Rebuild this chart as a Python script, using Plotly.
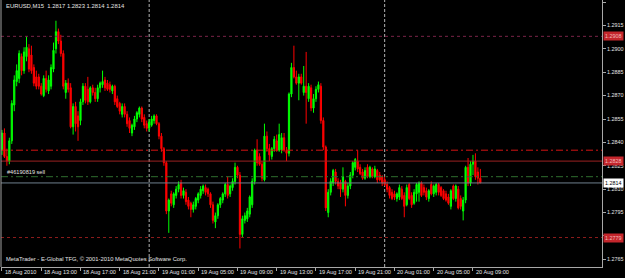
import pandas as pd
import plotly.graph_objects as go

symbol_title = "EURUSD,M15  1.2817 1.2823 1.2814 1.2814"
footer_text = "MetaTrader - E-Global TFG, \u00a9 2001-2010 MetaQuotes Software Corp."
order_label = "#46190819 sell"

opens = [1.2835,1.2846,1.2831,1.2828,1.2841,1.2864,1.2879,1.2881,1.2895,1.2886,
 1.2895,1.2900,1.2896,1.2888,1.2882,1.2882,1.2876,1.2870,1.2881,1.2873,
 1.2876,1.2887,1.2900,1.2911,1.2905,1.2897,1.2872,1.2878,1.2875,1.2850,
 1.2863,1.2857,1.2854,1.2866,1.2876,1.2874,1.2866,1.2875,1.2872,1.2868,
 1.2875,1.2877,1.2880,1.2878,1.2877,1.2873,1.2876,1.2868,1.2865,1.2858,
 1.2863,1.2858,1.2854,1.2846,1.2850,1.2855,1.2858,1.2862,1.2856,1.2852,
 1.2849,1.2851,1.2854,1.2857,1.2852,1.2844,1.2836,1.2827,1.2796,1.2807,
 1.2800,1.2806,1.2810,1.2814,1.2806,1.2808,1.2803,1.2801,1.2797,1.2799,
 1.2803,1.2806,1.2809,1.2811,1.2810,1.2807,1.2800,1.2789,1.2793,1.2800,
 1.2803,1.2807,1.2813,1.2807,1.2811,1.2815,1.2824,1.2819,1.2781,1.2790,
 1.2791,1.2794,1.2800,1.2815,1.2835,1.2831,1.2826,1.2816,1.2844,1.2836,
 1.2831,1.2836,1.2841,1.2835,1.2835,1.2843,1.2835,1.2833,1.2871,1.2888,
 1.2882,1.2878,1.2882,1.2872,1.2876,1.2868,1.2875,1.2862,1.2868,1.2874,
 1.2876,1.2854,1.2837,1.2795,1.2808,1.2814,1.2821,1.2815,1.2814,1.2810,
 1.2815,1.2806,1.2812,1.2819,1.2824,1.2828,1.2824,1.2821,1.2817,1.2824,
 1.2818,1.2823,1.2818,1.2822,1.2819,1.2818,1.2816,1.2813,1.2811,1.2808,
 1.2807,1.2804,1.2805,1.2810,1.2806,1.2800,1.2813,1.2806,1.2801,1.2807,
 1.2808,1.2814,1.2811,1.2809,1.2804,1.2813,1.2807,1.2808,1.2813,1.2811,
 1.2809,1.2807,1.2805,1.2799,1.2812,1.2804,1.2810,1.2804,1.2796,1.2803,
 1.2824,1.2814,1.2826,1.2828,1.2821,1.2817]

highs = [1.2848,1.2849,1.2836,1.2843,1.2867,1.2883,1.2890,1.2899,1.2897,1.2901,
 1.2908,1.2903,1.2902,1.2890,1.2886,1.2884,1.2878,1.2883,1.2886,1.2883,
 1.2890,1.2904,1.2918,1.2913,1.2909,1.2899,1.2880,1.2881,1.2878,1.2865,
 1.2866,1.2860,1.2868,1.2878,1.2878,1.2882,1.2876,1.2877,1.2875,1.2877,
 1.2879,1.2886,1.2882,1.2880,1.2879,1.2877,1.2877,1.2870,1.2866,1.2865,
 1.2865,1.2860,1.2856,1.2852,1.2857,1.2860,1.2863,1.2863,1.2858,1.2854,
 1.2855,1.2857,1.2858,1.2858,1.2853,1.2846,1.2837,1.2828,1.2804,1.2809,
 1.2808,1.2812,1.2815,1.2816,1.2811,1.2810,1.2805,1.2802,1.2802,1.2805,
 1.2808,1.2812,1.2813,1.2813,1.2811,1.2808,1.2802,1.2795,1.2801,1.2805,
 1.2808,1.2814,1.2818,1.2813,1.2817,1.2827,1.2825,1.2821,1.2793,1.2795,
 1.2798,1.2806,1.2817,1.2836,1.2842,1.2833,1.2828,1.2852,1.2847,1.2839,
 1.2837,1.2844,1.2845,1.2852,1.2846,1.2846,1.2837,1.2872,1.2891,1.2902,
 1.2886,1.2884,1.2884,1.2889,1.2898,1.2878,1.2877,1.2871,1.2876,1.2879,
 1.2878,1.2856,1.2838,1.2810,1.2817,1.2823,1.2823,1.2817,1.2816,1.2824,
 1.2816,1.2814,1.2821,1.2828,1.2830,1.2835,1.2826,1.2823,1.2824,1.2826,
 1.2825,1.2824,1.2825,1.2823,1.2821,1.2819,1.2818,1.2815,1.2812,1.2810,
 1.2809,1.2808,1.2813,1.2812,1.2808,1.2813,1.2814,1.2808,1.2810,1.2814,
 1.2815,1.2815,1.2813,1.2811,1.2810,1.2815,1.2813,1.2814,1.2814,1.2812,
 1.2810,1.2809,1.2807,1.2810,1.2813,1.2813,1.2812,1.2806,1.2805,1.2825,
 1.2830,1.2828,1.2832,1.2833,1.2824,1.2823]

lows = [1.2832,1.2830,1.2825,1.2826,1.2839,1.2860,1.2876,1.2878,1.2883,1.2884,
 1.2892,1.2885,1.2884,1.2876,1.2874,1.2874,1.2870,1.2869,1.2872,1.2871,
 1.2874,1.2885,1.2897,1.2903,1.2895,1.2874,1.2868,1.2872,1.2849,1.2845,
 1.2847,1.2841,1.2851,1.2864,1.2865,1.2864,1.2865,1.2870,1.2866,1.2866,
 1.2872,1.2875,1.2873,1.2873,1.2872,1.2871,1.2864,1.2862,1.2858,1.2856,
 1.2856,1.2850,1.2846,1.2844,1.2848,1.2853,1.2856,1.2853,1.2849,1.2847,
 1.2847,1.2850,1.2852,1.2851,1.2842,1.2834,1.2825,1.2794,1.2782,1.2799,
 1.2798,1.2804,1.2808,1.2804,1.2804,1.2800,1.2797,1.2792,1.2795,1.2797,
 1.2801,1.2804,1.2807,1.2806,1.2805,1.2798,1.2788,1.2785,1.2791,1.2798,
 1.2801,1.2805,1.2804,1.2805,1.2809,1.2813,1.2817,1.2772,1.2779,1.2788,
 1.2789,1.2792,1.2798,1.2813,1.2825,1.2825,1.2815,1.2815,1.2834,1.2828,
 1.2829,1.2834,1.2834,1.2834,1.2833,1.2834,1.2828,1.2831,1.2869,1.2881,
 1.2877,1.2867,1.2877,1.2870,1.2852,1.2866,1.2860,1.2859,1.2866,1.2872,
 1.2852,1.2835,1.2796,1.2792,1.2806,1.2812,1.2813,1.2810,1.2805,1.2808,
 1.2799,1.2804,1.2810,1.2817,1.2822,1.2821,1.2819,1.2816,1.2816,1.2817,
 1.2817,1.2817,1.2817,1.2814,1.2815,1.2812,1.2812,1.2808,1.2804,1.2803,
 1.2803,1.2802,1.2803,1.2803,1.2792,1.2799,1.2803,1.2798,1.2800,1.2802,
 1.2802,1.2805,1.2806,1.2803,1.2802,1.2806,1.2805,1.2806,1.2806,1.2805,
 1.2803,1.2802,1.2800,1.2797,1.2803,1.2802,1.2797,1.2797,1.2790,1.2801,
 1.2812,1.2812,1.2819,1.2816,1.2813,1.2814]

closes = [1.2846,1.2831,1.2828,1.2841,1.2865,1.2880,1.2886,1.2897,1.2886,1.2898,
 1.2901,1.2887,1.2886,1.2878,1.2876,1.2876,1.2871,1.2881,1.2874,1.2880,
 1.2888,1.2899,1.2911,1.2905,1.2897,1.2876,1.2878,1.2874,1.2850,1.2863,
 1.2852,1.2850,1.2866,1.2876,1.2867,1.2866,1.2875,1.2872,1.2868,1.2875,
 1.2878,1.2879,1.2875,1.2874,1.2874,1.2876,1.2866,1.2863,1.2860,1.2863,
 1.2858,1.2852,1.2849,1.2851,1.2855,1.2859,1.2862,1.2855,1.2851,1.2849,
 1.2853,1.2855,1.2857,1.2852,1.2844,1.2836,1.2827,1.2796,1.2803,1.2801,
 1.2807,1.2810,1.2813,1.2806,1.2809,1.2802,1.2799,1.2797,1.2800,1.2804,
 1.2807,1.2810,1.2812,1.2808,1.2807,1.2800,1.2790,1.2793,1.2800,1.2804,
 1.2807,1.2813,1.2806,1.2812,1.2815,1.2824,1.2819,1.2781,1.2791,1.2793,
 1.2796,1.2805,1.2815,1.2835,1.2827,1.2826,1.2817,1.2844,1.2836,1.2832,
 1.2836,1.2842,1.2835,1.2845,1.2843,1.2835,1.2833,1.2871,1.2888,1.2882,
 1.2878,1.2882,1.2878,1.2876,1.2872,1.2876,1.2862,1.2868,1.2874,1.2877,
 1.2854,1.2837,1.2798,1.2808,1.2815,1.2822,1.2815,1.2812,1.2810,1.2818,
 1.2806,1.2812,1.2819,1.2827,1.2829,1.2823,1.2820,1.2817,1.2822,1.2818,
 1.2824,1.2818,1.2823,1.2816,1.2816,1.2814,1.2813,1.2810,1.2806,1.2804,
 1.2805,1.2807,1.2811,1.2804,1.2799,1.2811,1.2804,1.2800,1.2808,1.2813,
 1.2814,1.2806,1.2808,1.2805,1.2809,1.2807,1.2812,1.2813,1.2808,1.2806,
 1.2804,1.2803,1.2801,1.2809,1.2804,1.2812,1.2798,1.2799,1.2803,1.2824,
 1.2814,1.2826,1.2828,1.2818,1.2817,1.2814]

bar_times = pd.date_range("2010-08-18 09:00", periods=len(closes), freq="15min")

x_tick_times = ["2010-08-18 09:00", "2010-08-18 13:00", "2010-08-18 17:00", "2010-08-18 21:00",
                "2010-08-19 01:00", "2010-08-19 05:00", "2010-08-19 09:00", "2010-08-19 13:00",
                "2010-08-19 17:00", "2010-08-19 21:00", "2010-08-20 01:00", "2010-08-20 05:00",
                "2010-08-20 09:00"]
x_tick_labels = ["18 Aug 2010", "18 Aug 13:00", "18 Aug 17:00", "18 Aug 21:00",
                 "19 Aug 01:00", "19 Aug 05:00", "19 Aug 09:00", "19 Aug 13:00",
                 "19 Aug 17:00", "19 Aug 21:00", "20 Aug 01:00", "20 Aug 05:00",
                 "20 Aug 09:00"]
# 1.2780 sits fully under the 1.2779 price box in the reference, so its text is blank
y_tick_vals = [1.2765, 1.2780, 1.2795, 1.2810, 1.2825, 1.2840, 1.2855, 1.2870,
               1.2885, 1.2900, 1.2915, 1.2930]
y_tick_labels = ["1.2765", "", "1.2795", "1.2810", "1.2825", "1.2840", "1.2855",
                 "1.2870", "1.2885", "1.2900", "1.2915", "1.2930"]
day_separators = ["2010-08-19 00:00", "2010-08-20 00:00"]

h_levels = [1.2908, 1.2835, 1.2828, 1.2818, 1.2814, 1.2779]
h_colors = ["#7a2448", "#d41414", "#9c2222", "#2f6e2f", "#6f7f8e", "#8e1c1c"]
h_dashes = ["dot", "7px,3px,2px,3px", "solid", "7px,3px,2px,3px", "solid", "dot"]
h_labels = ["1.2908", None, "1.2828", None, "1.2814", "1.2779"]
h_label_bg = ["#c4262c", None, "#c4262c", None, "#ffffff", "#c4262c"]
h_label_fg = ["#f3b8b8", None, "#f3b8b8", None, "#000000", "#f3b8b8"]

x_range = ["2010-08-18 08:54", "2010-08-20 22:09"]
y_range = [1.27601, 1.29313]

txt = "#e4e4e4"
font_family = "Liberation Sans, Arial, sans-serif"

fig = go.Figure()
fig.add_trace(go.Candlestick(
    x=bar_times, open=opens, high=highs, low=lows, close=closes,
    increasing=dict(line=dict(color="#00ff00", width=1), fillcolor="#00ff00"),
    decreasing=dict(line=dict(color="#ff0000", width=1), fillcolor="#ff0000"),
    whiskerwidth=0, hoverinfo="skip", showlegend=False,
))

shapes = []
for t in day_separators:
    shapes.append(dict(type="line", xref="x", yref="paper", x0=t, x1=t, y0=0, y1=1,
                       line=dict(color="#b4b4b4", width=1, dash="3px,2px"), layer="below"))
for lvl, col, dsh in zip(h_levels, h_colors, h_dashes):
    shapes.append(dict(type="line", xref="paper", yref="y", x0=0, x1=1, y0=lvl, y1=lvl,
                       line=dict(color=col, width=1, dash=dsh), layer="above"))
shapes.append(dict(type="line", xref="paper", yref="paper", x0=0, x1=0, y0=0, y1=1,
                   line=dict(color="#a0a0a0", width=1)))

annotations = []
annotations.append(dict(text=symbol_title, xref="paper", yref="paper", x=0, y=1,
                        xanchor="left", yanchor="middle", xshift=3, yshift=-6,
                        showarrow=False, font=dict(size=5.9, color=txt, family=font_family)))
annotations.append(dict(text=footer_text, xref="paper", yref="paper", x=0, y=0,
                        xanchor="left", yanchor="middle", xshift=3, yshift=8,
                        showarrow=False, font=dict(size=5.8, color=txt, family=font_family)))
annotations.append(dict(text=order_label, xref="paper", yref="y", x=0, y=h_levels[3],
                        xanchor="left", yanchor="bottom", xshift=4, yshift=0,
                        showarrow=False, font=dict(size=5.6, color=txt, family=font_family)))
for t, lab in zip(x_tick_times, x_tick_labels):
    annotations.append(dict(text=lab, xref="x", yref="paper", x=t, y=0,
                            xanchor="left", yanchor="middle", xshift=1, yshift=-5,
                            showarrow=False, font=dict(size=5.6, color=txt, family=font_family)))
for lvl, lab, bg, fg in zip(h_levels, h_labels, h_label_bg, h_label_fg):
    if lab is None:
        continue
    annotations.append(dict(text=lab, xref="paper", yref="y", x=1, y=lvl,
                            xanchor="left", yanchor="middle", xshift=1,
                            showarrow=False, bgcolor=bg, borderpad=1,
                            font=dict(size=5.4, color=fg, family=font_family)))

fig.update_layout(
    width=625, height=278,
    margin=dict(l=1, r=23, t=0, b=11),
    paper_bgcolor="#000000", plot_bgcolor="#000000",
    showlegend=False,
    shapes=shapes, annotations=annotations,
    xaxis=dict(type="date", range=x_range, rangeslider=dict(visible=False),
               showgrid=False, zeroline=False, showline=True, linecolor="#a8a8a8",
               linewidth=1, tickvals=x_tick_times, ticks="outside", ticklen=3,
               tickcolor="#a8a8a8", showticklabels=False, fixedrange=True),
    yaxis=dict(range=y_range, side="right", showgrid=False, zeroline=False,
               showline=True, linecolor="#a8a8a8", linewidth=1,
               tickvals=y_tick_vals, ticktext=y_tick_labels, ticks="outside",
               ticklen=3, tickcolor="#a8a8a8", automargin=False,
               tickfont=dict(size=5.4, color=txt, family=font_family), fixedrange=True),
)

fig.write_html("out.html")
